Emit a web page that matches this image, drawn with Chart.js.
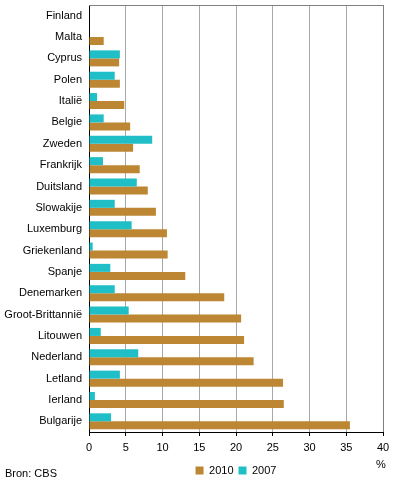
<!DOCTYPE html>
<html>
<head>
<meta charset="utf-8">
<script src="https://cdn.jsdelivr.net/npm/chart.js@4/dist/chart.umd.min.js"></script>
<style>
  html, body { margin: 0; padding: 0; background: #fff; }
  canvas { display: block; }
</style>
</head>
<body>
<canvas id="grafiek" width="396" height="485"></canvas>
<script>
const landen = ['Finland', 'Malta', 'Cyprus', 'Polen', 'Italië', 'Belgie', 'Zweden', 'Frankrijk', 'Duitsland', 'Slowakije',
  'Luxemburg', 'Griekenland', 'Spanje', 'Denemarken', 'Groot-Brittannië', 'Litouwen', 'Nederland', 'Letland', 'Ierland', 'Bulgarije'];
const waarden2010 = [0, 2.0, 4.1, 4.2, 4.8, 5.6, 6.0, 6.9, 8.0, 9.1, 10.6, 10.7, 13.1, 18.4, 20.7, 21.1, 22.4, 26.4, 26.5, 35.5];
const waarden2007 = [0, 0, 4.2, 3.5, 1.1, 2.0, 8.6, 1.9, 6.5, 3.5, 5.8, 0.5, 2.9, 3.5, 5.4, 1.6, 6.7, 4.2, 0.8, 3.0];
const asTicks = [0, 5, 10, 15, 20, 25, 30, 35, 40];

const bruin = '#bc8633';
const turkoois = '#20bec6';
const lettertype = { family: 'Arial, "Liberation Sans", sans-serif', size: 11 };

Chart.defaults.font = lettertype;
Chart.defaults.color = '#000';

// bovenrand, % en bron worden los getekend
const extraTekst = {
  id: 'extraTekst',
  afterDraw(chart) {
    const ctx = chart.ctx;
    const area = chart.chartArea;
    ctx.save();
    ctx.strokeStyle = '#808080';
    ctx.lineWidth = 1;
    ctx.beginPath();
    ctx.moveTo(area.left, area.top + 0.5);
    ctx.lineTo(area.right + 0.5, area.top + 0.5);
    ctx.stroke();

    ctx.font = '11px Arial, "Liberation Sans", sans-serif';
    ctx.fillStyle = '#000';
    ctx.textBaseline = 'middle';
    ctx.textAlign = 'center';
    ctx.fillText('%', 381, 465);
    ctx.textAlign = 'left';
    ctx.fillText('Bron: CBS', 5, 474);
    ctx.restore();
  }
};

const ctx = document.getElementById('grafiek').getContext('2d');
const grafiek = new Chart(ctx, {
  type: 'bar',
  data: {
    labels: landen,
    datasets: [
      { label: '2007', data: waarden2007, backgroundColor: turkoois },
      { label: '2010', data: waarden2010, backgroundColor: bruin }
    ]
  },
  options: {
    indexAxis: 'y',
    responsive: false,
    animation: false,
    categoryPercentage: 0.75,
    barPercentage: 1.0,
    layout: { padding: { top: 5, right: 13, left: 0, bottom: -1 } },
    plugins: {
      tooltip: { enabled: false },
      legend: {
        position: 'bottom',
        fullSize: false,
        reverse: true,
        labels: { boxWidth: 8, boxHeight: 8, padding: 5, font: lettertype, color: '#000' }
      }
    },
    scales: {
      x: {
        min: 0,
        max: 40,
        afterBuildTicks(scale) {
          scale.ticks = asTicks.map(v => ({ value: v }));
        },
        afterFit(scale) { scale.height = 28; },
        grid: {
          color: c => (c.tick && c.tick.value === 40 ? '#808080' : '#a8a8a8'),
          tickColor: '#000',
          tickLength: 4,
          lineWidth: 1
        },
        border: { color: '#000', width: 1 },
        ticks: { padding: 5, font: lettertype, color: '#000' }
      },
      y: {
        afterFit(scale) {
          scale.width = 89;
          scale.paddingTop = 0;
          scale.paddingBottom = 0;
        },
        grid: { display: false, drawTicks: false },
        border: { color: '#000', width: 1 },
        ticks: { padding: 7, font: lettertype, color: '#000', autoSkip: false }
      }
    }
  },
  plugins: [extraTekst]
});
</script>
</body>
</html>
